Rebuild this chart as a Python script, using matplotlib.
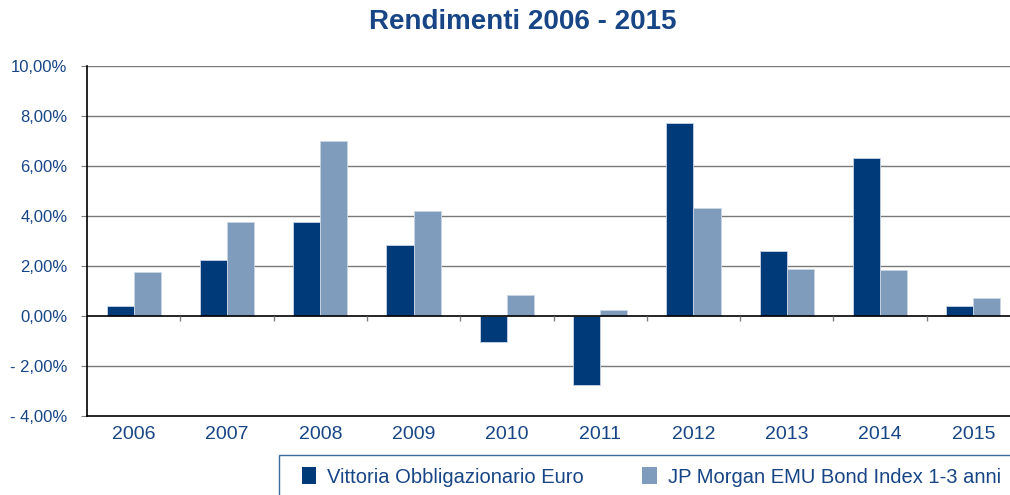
import matplotlib.pyplot as plt
import numpy as np
from matplotlib.patches import Rectangle, Patch
from matplotlib.ticker import FuncFormatter

years = ['2006', '2007', '2008', '2009', '2010', '2011', '2012', '2013', '2014', '2015']
fund = [0.41, 2.24, 3.75, 2.84, -1.04, -2.76, 7.73, 2.60, 6.31, 0.40]
index = [1.75, 3.76, 6.99, 4.20, 0.84, 0.23, 4.32, 1.87, 1.84, 0.72]
labels = ['Vittoria Obbligazionario Euro', 'JP Morgan EMU Bond Index 1-3 anni']

dark = '#013a78'
light = '#7f9cbd'
txt = '#174585'

plt.rcParams['font.family'] = ['Liberation Sans', 'DejaVu Sans']

fig = plt.figure(figsize=(10.10, 4.95), dpi=100)
ax = fig.add_axes([87 / 1010, 1 - 416 / 495, 933 / 1010, 350 / 495])

x = np.arange(len(years))
w = 0.29
ax.bar(x - w / 2, fund, w, color=dark, edgecolor='#c9d5e5', linewidth=0.6, zorder=3)
ax.bar(x + w / 2, index, w, color=light, edgecolor='#c9d5e5', linewidth=0.6, zorder=3)

ax.set_xlim(-0.5, len(years) - 0.5)
ax.set_ylim(-4, 10)
ax.set_yticks(np.arange(-4, 11, 2))
ax.yaxis.set_major_formatter(FuncFormatter(
    lambda v, p: ('- ' if v < 0 else '') + f'{abs(v):.2f}'.replace('.', ',') + '%'))
ax.tick_params(axis='y', length=4, color='#808080', labelcolor=txt, labelsize=12, pad=10)
ax.set_xticks(x)
ax.set_xticklabels(years)
ax.tick_params(axis='x', length=0, labelcolor=txt, labelsize=14, pad=7)

for g in [-2, 2, 4, 6, 8, 10]:
    ax.axhline(g, color='#7a7a7a', linewidth=1, zorder=1)
ax.axhline(0, color='black', linewidth=1.2, zorder=4)
ax.vlines(np.arange(len(years)) + 0.5, -0.18, 0, color='#808080', linewidth=1, zorder=4)

for s in ['top', 'right']:
    ax.spines[s].set_visible(False)
ax.spines['left'].set_linewidth(1.2)
ax.spines['bottom'].set_linewidth(1.2)

fig.text(523 / 1010, 1 - 22 / 495, 'Rendimenti 2006 - 2015', ha='center', va='center',
         fontsize=20, fontweight='bold', color=txt)

fig.patches.append(Rectangle((279 / 1010, -0.1), 0.8, (495 - 455) / 495 + 0.1,
                             transform=fig.transFigure, fill=False,
                             edgecolor='#3f6aa0', linewidth=1))
handles = [Patch(facecolor=dark), Patch(facecolor=light)]
fig.legend(handles, labels, ncol=2, loc='center left', frameon=False,
           bbox_to_anchor=(284 / 1010, 1 - 477 / 495), fontsize=14.5,
           handlelength=0.7, handleheight=0.9, handletextpad=0.55,
           columnspacing=2.9, labelcolor=txt)

fig.savefig('out.png', dpi=100)
